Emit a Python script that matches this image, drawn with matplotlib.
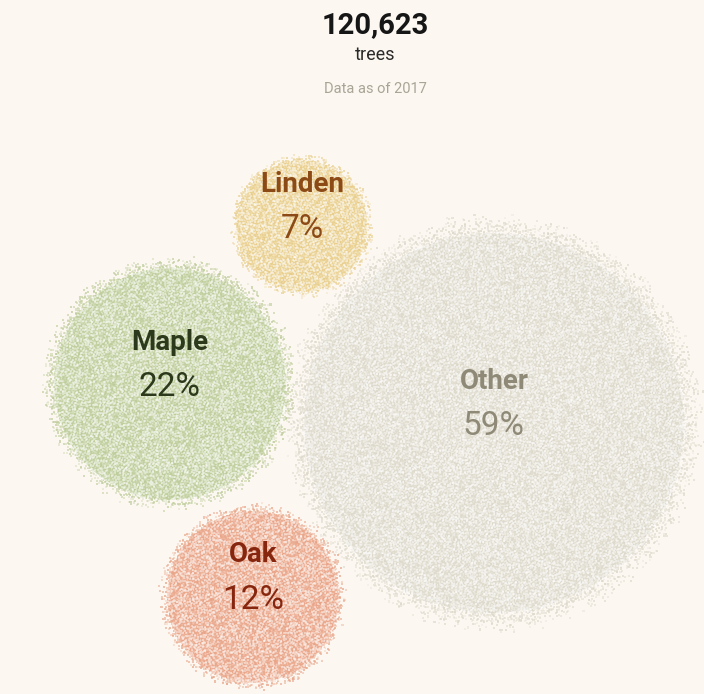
import numpy as np
import matplotlib.pyplot as plt
from matplotlib.patches import Circle
from matplotlib.colors import to_rgb

# data
species = ['Linden', 'Maple', 'Other', 'Oak']
share = [7, 22, 59, 12]
total_trees = '120,623'
year = 2017

# layout (pixels) and style
centers = [(302, 226), (170, 384), (494, 423), (253, 597)]
fills = ['#f3e4bb', '#dae3c4', '#edeae1', '#f3c6b2']
dots = ['#e8cc88', '#bccb98', '#dcd8ca', '#e8a285']
inks = ['#8c4a16', '#2c3a1b', '#8f8a77', '#87260f']
bg = '#fcf8f1'
k = 26.0  # px per sqrt(percent)

W, H = 704, 694
fig = plt.figure(figsize=(W / 100, H / 100), dpi=100, facecolor=bg)
ax = fig.add_axes([0, 0, 1, 1])
ax.set_xlim(0, W)
ax.set_ylim(H, 0)
ax.set_aspect('equal')
ax.axis('off')


def hash01(idx, seed):
    # cheap deterministic hash, only used for the speckle texture
    v = np.sin(idx * 12.9898 + seed * 78.233) * 43758.5453
    return v - np.floor(v)


a1, a2 = 0.7548776662, 0.5698402910  # R2 low-discrepancy sequence

for b, (name, p, (cx, cy), fc, dc, ink) in enumerate(zip(species, share, centers, fills, dots, inks)):
    R = k * np.sqrt(p)
    ax.add_patch(Circle((cx, cy), R * 0.95, facecolor=fc, edgecolor='none', zorder=1))
    span = R * 1.06
    n = int((2 * span) ** 2 / 3.0)
    i = np.arange(n)
    u = (0.5 + i * a1) % 1 + (hash01(i, b) - 0.5) * 0.004
    v = (0.5 + i * a2) % 1 + (hash01(i, b + 10) - 0.5) * 0.004
    x = (u * 2 - 1) * span
    y = (v * 2 - 1) * span
    d = np.hypot(x, y)
    edge = np.clip((span - d) / (0.14 * R), 0, 1) ** 1.4
    keep = hash01(i, b + 20) < edge
    alpha = 0.2 + 0.5 * hash01(i, b + 30)
    cols = np.zeros((n, 4))
    cols[:, :3] = to_rgb(dc)
    cols[:, 3] = alpha
    ax.scatter(cx + x[keep], cy + y[keep], s=2.2, c=cols[keep], marker='s',
               linewidths=0, zorder=2)
    # pale flecks
    w = (hash01(i, b + 40) < 0.45) & (d < R * 0.96)
    ax.scatter(cx + x[w] + 0.7, cy + y[w] + 0.7, s=2.0, c='white', marker='s',
               alpha=0.4, linewidths=0, zorder=3)

    ax.text(cx, cy - 42, name, ha='center', va='center', fontsize=20,
            fontweight='bold', color=ink, family='Roboto', zorder=5)
    ax.text(cx, cy + 3, f'{p}%', ha='center', va='center', fontsize=24,
            color=ink, family='Roboto', zorder=5)

xm = 375
ax.text(xm, 25, total_trees, ha='center', va='center', fontsize=21,
        fontweight='bold', color='#161616', family='Roboto')
ax.text(xm, 55, 'trees', ha='center', va='center', fontsize=13,
        color='#2a2a2a', family='Roboto')
ax.text(xm, 89, f'Data as of {year}', ha='center', va='center', fontsize=10.5,
        color='#aaa496', family='Roboto')

fig.savefig('out.png', dpi=100, facecolor=bg)
